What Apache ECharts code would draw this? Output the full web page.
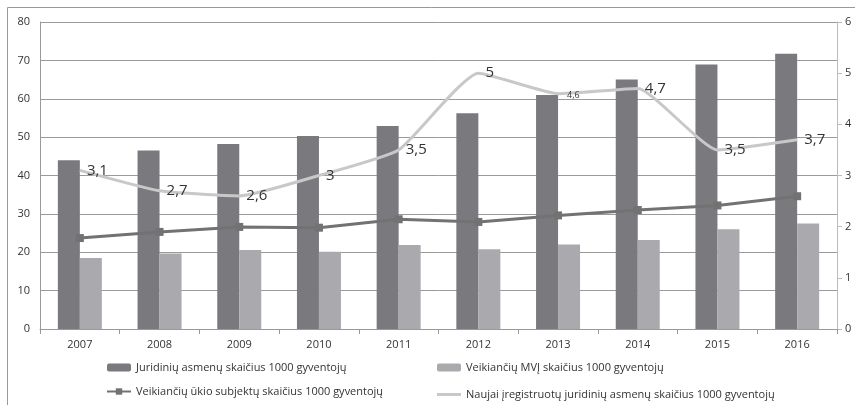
<!DOCTYPE html>
<html><head><meta charset="utf-8">
<script src="https://cdn.jsdelivr.net/npm/echarts@6/dist/echarts.min.js"></script>
<style>html,body{margin:0;padding:0;background:#fff}#c{width:855px;height:405px}</style>
</head><body><div id="c"></div>
<script>
const years = ['2007','2008','2009','2010','2011','2012','2013','2014','2015','2016'];
const juridiniai = [44.0, 46.5, 48.2, 50.3, 52.9, 56.2, 61.0, 65.0, 68.9, 71.7];
const mvj = [18.5, 19.7, 20.6, 20.1, 21.9, 20.8, 22.0, 23.2, 26.0, 27.5];
const ukioSubjektai = [23.7, 25.3, 26.6, 26.4, 28.6, 27.9, 29.6, 31.0, 32.2, 34.6];
const naujai = [3.1, 2.7, 2.6, 3.0, 3.5, 5.0, 4.6, 4.7, 3.5, 3.7];
const names = ['Juridinių asmenų skaičius 1000 gyventojų','Veikiančių MVĮ skaičius 1000 gyventojų','Veikiančių ūkio subjektų skaičius 1000 gyventojų','Naujai įregistruotų juridinių asmenų skaičius 1000 gyventojų'];

const font = 'Open Sans';
const chart = echarts.init(document.getElementById('c'));
const fmt = v => String(v).replace('.', ',');
const legendBase = {itemWidth: 24, itemHeight: 8, itemGap: 0, textStyle: {fontFamily: font, fontSize: 11, color: '#333'}, padding: 0};
chart.setOption({
  animation: false,
  textStyle: {fontFamily: font},
  graphic: [{type: 'rect', shape: {x: 7.5, y: 7.5, width: 860, height: 420}, style: {fill: 'none', stroke: '#999', lineWidth: 1}, silent: true}],
  grid: {left: 40, right: 18, top: 22, bottom: 76},
  legend: [
    Object.assign({}, legendBase, {data: [names[0]], left: 107, top: 362}),
    Object.assign({}, legendBase, {data: [names[1]], left: 437, top: 362}),
    Object.assign({}, legendBase, {data: [names[2]], left: 106, top: 386}),
    Object.assign({}, legendBase, {data: [{name: names[3], icon: 'rect'}], itemHeight: 3, left: 437, top: 389})
  ],
  xAxis: {
    type: 'category', data: years,
    axisLine: {lineStyle: {color: '#999'}},
    axisTick: {show: true, length: 5, lineStyle: {color: '#999'}},
    axisLabel: {color: '#333', fontSize: 11, margin: 10}
  },
  yAxis: [
    {type: 'value', min: 0, max: 80, interval: 10,
     axisLine: {show: true, lineStyle: {color: '#999'}},
     axisTick: {show: false},
     axisLabel: {color: '#333', fontSize: 11, margin: 10},
     splitLine: {lineStyle: {color: '#9a9a9a', width: 1}}},
    {type: 'value', min: 0, max: 6, interval: 1, position: 'right',
     axisLine: {show: true, lineStyle: {color: '#bbb'}},
     axisTick: {show: true, length: 5, lineStyle: {color: '#bbb'}},
     axisLabel: {color: '#333', fontSize: 11, margin: 8},
     splitLine: {show: false}}
  ],
  series: [
    {name: names[0], type: 'bar', data: juridiniai, barWidth: 22, barGap: '0%',
     itemStyle: {color: '#7a7a7e'}},
    {name: names[1], type: 'bar', data: mvj, barWidth: 22,
     itemStyle: {color: '#aaaaae'}},
    {name: names[2], type: 'line', data: ukioSubjektai, yAxisIndex: 0,
     symbol: 'rect', symbolSize: 8, z: 5,
     lineStyle: {color: '#727272', width: 3}, itemStyle: {color: '#727272'}},
    {name: names[3], type: 'line', yAxisIndex: 1, smooth: 0.15,
     symbol: 'circle', symbolSize: 0.1, showSymbol: true, z: 4,
     data: naujai.map((v, i) => i === 6 ? {value: v, label: {fontSize: 9, offset: [2, 2]}} : v),
     lineStyle: {color: '#c8c8c8', width: 3}, itemStyle: {color: '#c8c8c8'},
     label: {show: true, position: 'right', distance: 7, fontSize: 15, color: '#333', formatter: p => fmt(p.value)}}
  ]
});
</script></body></html>
